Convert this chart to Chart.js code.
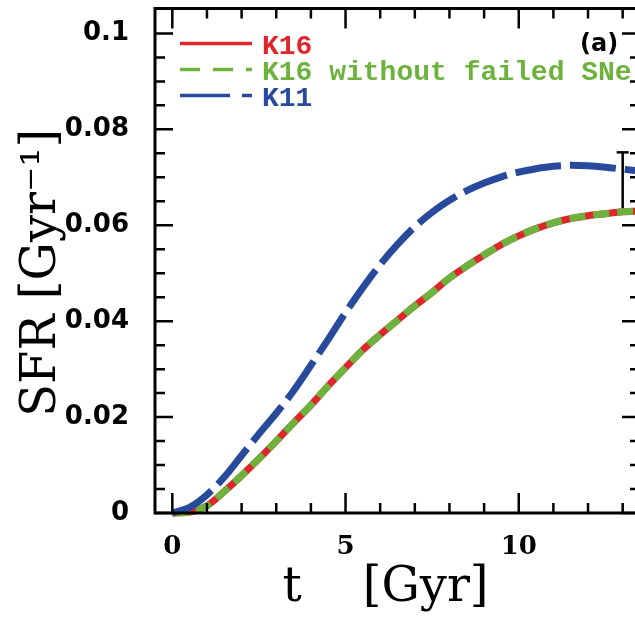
<!DOCTYPE html>
<html lang="en">
<head>
<meta charset="UTF-8">
<script src="https://cdn.jsdelivr.net/npm/chart.js"></script>
<style>
html, body { margin: 0; padding: 0; background: #fff; overflow: hidden; }
.wrap { width: 660px; height: 617px; }
</style>
</head>
<body>
<div class="wrap"><canvas id="sfr" width="660" height="617"></canvas></div>
<script>
// time grid (Gyr) and star formation rates
const tGyr = [0, 0.5, 1, 1.5, 2, 2.5, 3, 3.5, 4, 4.5, 5, 5.5, 6, 6.5, 7, 7.5, 8, 8.5, 9, 9.5, 10, 10.5, 11, 11.5, 12, 12.5, 13, 13.5];
const sfrK16 = [0, 0.0002, 0.0015, 0.0045, 0.0078, 0.0113, 0.0150, 0.0188, 0.0225, 0.0265, 0.0303, 0.0340, 0.0372, 0.0402, 0.0432, 0.0460, 0.0490, 0.0515, 0.0538, 0.0560, 0.0578, 0.0593, 0.0605, 0.0614, 0.0620, 0.0624, 0.0628, 0.0630];
const sfrK16NoFailed = [0, 0.0002, 0.0015, 0.0045, 0.0078, 0.0113, 0.0150, 0.0188, 0.0225, 0.0265, 0.0303, 0.0340, 0.0372, 0.0402, 0.0432, 0.0460, 0.0490, 0.0515, 0.0538, 0.0560, 0.0578, 0.0593, 0.0605, 0.0614, 0.0620, 0.0624, 0.0628, 0.0630];
const sfrK11 = [0, 0.0012, 0.0038, 0.0075, 0.0120, 0.0165, 0.0208, 0.0255, 0.0308, 0.0362, 0.0418, 0.0470, 0.0518, 0.0560, 0.0597, 0.0627, 0.0652, 0.0672, 0.0688, 0.0701, 0.0711, 0.0718, 0.0723, 0.0725, 0.0724, 0.0721, 0.0717, 0.0713];

// observed value with error bar
const obsT = [13, 13];
const obsSfr = [0.0631, 0.0752];

// axis ticks
const xMajorTicks = [0, 5, 10];
const xTickLabels = ['0', '5', '10'];
const xMinorTicks = [1, 2, 3, 4, 6, 7, 8, 9, 11, 12, 13];
const yMajorTicks = [0, 0.02, 0.04, 0.06, 0.08, 0.1];
const yTickLabels = ['0', '0.02', '0.04', '0.06', '0.08', '0.1'];
const yMinorTicks = [0.005, 0.01, 0.015, 0.025, 0.03, 0.035, 0.045, 0.05, 0.055, 0.065, 0.07, 0.075, 0.085, 0.09, 0.095];

const legendItems = [
    { label: 'K16', extra: '', color: 'rgb(222,38,44)', dash: [] },
    { label: 'K16', extra: ' without failed SNe', color: 'rgb(110,178,62)', dash: [20, 13] },
    { label: 'K11', extra: '', color: 'rgb(40,74,156)', dash: [50, 12] }
];

function pts(xs, ys) {
    return xs.map((x, i) => ({ x: x, y: ys[i] }));
}

// frame, inward ticks, legend
const framePlugin = {
    id: 'frame',
    afterDatasetsDraw(chart) {
        const ctx = chart.ctx;
        const a = chart.chartArea;
        const xs = chart.scales.x, ys = chart.scales.y;
        ctx.save();
        ctx.strokeStyle = '#000';
        ctx.lineWidth = 3;
        ctx.strokeRect(a.left, a.top, a.right - a.left, a.bottom - a.top);
        ctx.lineWidth = 2.5;
        ctx.beginPath();
        xMajorTicks.forEach(v => {
            const p = xs.getPixelForValue(v);
            ctx.moveTo(p, a.bottom); ctx.lineTo(p, a.bottom - 20);
            ctx.moveTo(p, a.top); ctx.lineTo(p, a.top + 20);
        });
        xMinorTicks.forEach(v => {
            const p = xs.getPixelForValue(v);
            ctx.moveTo(p, a.bottom); ctx.lineTo(p, a.bottom - 10);
            ctx.moveTo(p, a.top); ctx.lineTo(p, a.top + 10);
        });
        yMajorTicks.forEach(v => {
            const p = ys.getPixelForValue(v);
            ctx.moveTo(a.left, p); ctx.lineTo(a.left + 18, p);
            ctx.moveTo(a.right, p); ctx.lineTo(a.right - 18, p);
        });
        yMinorTicks.forEach(v => {
            const p = ys.getPixelForValue(v);
            ctx.moveTo(a.left, p); ctx.lineTo(a.left + 10, p);
            ctx.moveTo(a.right, p); ctx.lineTo(a.right - 10, p);
        });
        ctx.stroke();

        // legend
        ctx.font = 'bold 28px "Liberation Mono"';
        ctx.textBaseline = 'alphabetic';
        legendItems.forEach((it, i) => {
            const y = a.top + 35 + i * 26;
            ctx.strokeStyle = it.color;
            ctx.lineWidth = 3.5;
            ctx.setLineDash(it.dash);
            ctx.beginPath();
            ctx.moveTo(a.left + 25, y);
            ctx.lineTo(a.left + 97, y);
            ctx.stroke();
            ctx.setLineDash([]);
            ctx.fillStyle = it.color;
            ctx.fillText(it.label + it.extra, a.left + 107, y + 10);
        });

        ctx.fillStyle = '#000';
        ctx.font = 'bold 24px "DejaVu Sans"';
        ctx.fillText('(a)', 580, 51);
        ctx.restore();
    }
};

new Chart(document.getElementById('sfr'), {
    type: 'line',
    data: {
        datasets: [
            {
                label: 'K11',
                data: pts(tGyr, sfrK11),
                borderColor: 'rgb(40,74,156)',
                borderWidth: 7,
                borderDash: [46, 9],
                pointRadius: 0,
                cubicInterpolationMode: 'monotone'
            },
            {
                label: 'K16 without failed SNe',
                data: pts(tGyr, sfrK16NoFailed),
                borderColor: 'rgb(110,178,62)',
                borderWidth: 7,
                borderDash: [16, 8],
                pointRadius: 0,
                cubicInterpolationMode: 'monotone'
            },
            {
                label: 'K16',
                data: pts(tGyr, sfrK16),
                borderColor: 'rgb(222,38,44)',
                borderWidth: 7,
                pointRadius: 0,
                cubicInterpolationMode: 'monotone'
            },
            {
                label: 'observed',
                data: pts(obsT, obsSfr),
                borderColor: '#000',
                borderWidth: 2.5,
                pointStyle: 'line',
                pointRadius: 6,
                pointBorderWidth: 2.5,
                pointBorderColor: '#000'
            }
        ]
    },
    options: {
        responsive: false,
        animation: false,
        clip: false,
        layout: { padding: { top: 8, right: 20, left: 0, bottom: 0 } },
        plugins: { legend: { display: false }, tooltip: { enabled: false } },
        scales: {
            x: {
                type: 'linear',
                min: -0.5,
                max: 13.5,
                grid: { display: false },
                border: { display: false },
                afterBuildTicks: s => { s.ticks = xMajorTicks.map(v => ({ value: v })); },
                afterFit: s => { s.height = 104; s.paddingLeft = 0; s.paddingRight = 0; },
                ticks: {
                    color: '#000',
                    padding: 11,
                    maxRotation: 0,
                    callback: (v, i) => xTickLabels[i],
                    font: { family: 'DejaVu Serif', weight: 'bold', size: 26 }
                },
                title: {
                    display: true,
                    text: 't    [Gyr]\u2002',
                    color: '#000',
                    padding: { top: 0, bottom: 0 },
                    font: { family: 'DejaVu Serif', size: 48 }
                }
            },
            y: {
                min: 0,
                max: 0.1052,
                grid: { display: false },
                border: { display: false },
                afterBuildTicks: s => { s.ticks = yMajorTicks.map(v => ({ value: v })); },
                afterFit: s => { s.width = 155; s.paddingTop = 0; s.paddingBottom = 0; },
                ticks: {
                    color: '#000',
                    padding: 18,
                    callback: (v, i) => yTickLabels[i],
                    font: { family: 'DejaVu Sans', weight: 'bold', size: 26 }
                },
                title: {
                    display: true,
                    text: 'SFR [Gyr⁻¹]\u2002',
                    color: '#000',
                    padding: { top: 14, bottom: 0 },
                    font: { family: 'DejaVu Serif', size: 48 }
                }
            }
        }
    },
    plugins: [framePlugin]
});
</script>
</body>
</html>
